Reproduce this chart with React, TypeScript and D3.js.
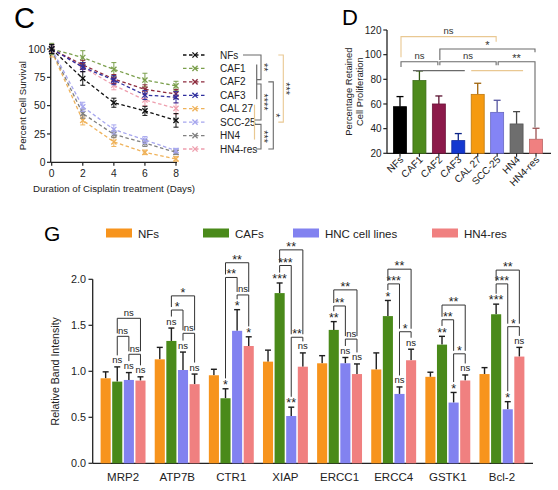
import React from "react";
import * as d3 from "d3";

const FONT = "'Liberation Sans', Arial, Helvetica, sans-serif";

// ---------------- Panel C : cell survival curves ----------------
const cDays = [0, 2, 4, 6, 8];
const cNames = ["NFs", "CAF1", "CAF2", "CAF3", "CAL 27", "SCC-25", "HN4", "HN4-res"];
const cNFs = [100, 74, 52.6, 45.4, 37];
const cCAF1 = [100, 92.5, 82, 72.6, 67.5];
const cCAF2 = [100, 86, 73.5, 64.4, 60.3];
const cCAF3 = [100, 84, 72.5, 59.4, 57.4];
const cCAL27 = [98, 37, 18, 8.8, 3];
const cSCC25 = [100, 49, 29, 19.7, 10.3];
const cHN4 = [99, 43, 24.7, 17, 8.8];
const cHN4res = [100, 84, 68, 55, 47.6];
const cErrNFs = [4, 6, 4, 4, 6];
const cErrCAF1 = [5, 6, 6, 6, 4];
const cErrCAF2 = [4, 4, 4, 4, 4];
const cErrCAF3 = [4, 4, 4, 4, 5];
const cErrCAL27 = [5, 4, 4, 2, 2];
const cErrSCC25 = [4, 4, 4, 3, 2];
const cErrHN4 = [4, 4, 3, 3, 2];
const cErrHN4res = [4, 4, 4, 5, 5];
const cColors = ["#111111", "#7b9f4c", "#8c2a3c", "#2f2f9e", "#efb25a", "#a6a6ee", "#808080", "#ee9fae"];
const cYTicks = [0, 25, 50, 75, 100];
const cXTicks = [0, 2, 4, 6, 8];
const cBrackets = [
  { from: "NFs", to: "CAF2", level: 1, label: "**", tone: "gray" },
  { from: "CAF2", to: "SCC-25", level: 1, label: "****", tone: "gray" },
  { from: "SCC-25", to: "HN4-res", level: 1, label: "***", tone: "gray" },
  { from: "CAF2", to: "HN4-res", level: 2, label: "*", tone: "gray" },
  { from: "NFs", to: "SCC-25", level: 3, label: "***", tone: "tan" },
];
const cGroups = [
  { from: "CAF1", to: "CAF3", tone: "gray" },
  { from: "CAL 27", to: "HN4", tone: "tan" },
];

// ---------------- Panel D : retained proliferation ----------------
const dCats = ["NFs", "CAF1", "CAF2", "CAF3", "CAL 27", "SCC-25", "HN4", "HN4-res"];
const dValues = [57.8, 79, 60, 30.3, 67.8, 53.2, 43.8, 31.4];
const dErrors = [8.2, 7.8, 6.5, 5.7, 9, 9.8, 10, 8.9];
const dColors = ["#000000", "#4e8a1c", "#8c1a4a", "#1438d0", "#f59a10", "#8484f5", "#6e6e6e", "#f08080"];
const dYTicks = [20, 40, 60, 80, 100, 120];
const dBrackets = [
  { from: "NFs", to: "SCC-25", level: 114.6, leftEnd: 97.9, rightEnd: 110.5, label: "ns", tone: "tan" },
  { from: "CAF2", to: "HN4-res", level: 104.6, leftEnd: 95.7, rightEnd: 101.9, label: "*", tone: "gray" },
  { from: "NFs", to: "CAF2", level: 94.3, leftEnd: 90, rightEnd: 91.5, label: "ns", tone: "gray" },
  { from: "CAF2", to: "SCC-25", level: 94.3, leftEnd: 91.5, rightEnd: 91.5, label: "ns", tone: "gray" },
  { from: "SCC-25", to: "HN4-res", level: 94.3, leftEnd: 91.5, rightEnd: 41, label: "**", tone: "gray" },
];
const dGroups = [
  { from: "CAF1", to: "CAF3", level: 87, tone: "gray" },
  { from: "CAL 27", to: "HN4", level: 87, tone: "tan" },
];

// ---------------- Panel G : band intensity ----------------
const gCats = ["MRP2", "ATP7B", "CTR1", "XIAP", "ERCC1", "ERCC4", "GSTK1", "Bcl-2"];
const gSeries = ["NFs", "CAFs", "HNC cell lines", "HN4-res"];
const gNFs = [0.924, 1.13, 0.957, 1.105, 1.087, 1.02, 0.94, 0.97];
const gNFsErr = [0.07, 0.13, 0.065, 0.125, 0.083, 0.18, 0.05, 0.07];
const gCAFs = [0.888, 1.33, 0.707, 1.85, 1.45, 1.6, 1.29, 1.62];
const gCAFsErr = [0.16, 0.14, 0.103, 0.11, 0.09, 0.17, 0.09, 0.11];
const gHNC = [0.906, 1.014, 1.44, 0.514, 1.087, 0.754, 0.66, 0.587];
const gHNCErr = [0.08, 0.195, 0.23, 0.096, 0.063, 0.076, 0.11, 0.083];
const gRes = [0.899, 0.86, 1.275, 1.05, 0.97, 1.12, 0.9, 1.16];
const gResErr = [0.041, 0.11, 0.1, 0.15, 0.11, 0.12, 0.06, 0.1];
const gColors = ["#f7941d", "#4a8a1a", "#8282f0", "#f08080"];
const gYTicks = [0, 0.5, 1, 1.5, 2];
// significance vs NFs for CAFs, HNC cell lines, HN4-res
const gStarsCAFs = ["ns", "ns", "*", "***", "**", "*", "**", "***"];
const gStarsHNC = ["ns", "ns", "*", "**", "ns", "ns", "*", "*"];
const gStarsRes = ["ns", "ns", "*", "ns", "ns", "ns", "ns", "ns"];
// bracket levels: CAFs vs HNC, CAFs vs HN4-res, HNC vs HN4-res
const gLevelCH = [1.38, 1.666, 2.02, 2.15, 1.71, 1.95, 1.56, 1.95];
const gLabelCH = ["ns", "*", "**", "***", "**", "***", "**", "***"];
const gLevelCR = [1.576, 1.82, 2.18, 2.32, 1.885, 2.11, 1.72, 2.1];
const gLabelCR = ["ns", "*", "**", "**", "**", "**", "**", "**"];
const gLevelHR = [1.185, 1.413, 1.83, 1.37, 1.35, 1.43, 1.19, 1.485];
const gLabelHR = ["ns", "ns", "ns", "**", "ns", "*", "*", "*"];

const TONE: Record<string, string> = { gray: "#6a6a6a", tan: "#e9c892" };
const hasStar = (s: string) => s.indexOf("*") >= 0;

function PanelC() {
  const x = d3.scaleLinear().domain([0, 8]).range([51.7, 176]);
  const y = d3.scaleLinear().domain([0, 100]).range([162.3, 49]);
  const rows = d3.scalePoint<string>().domain(cNames).range([55, 149]);
  const series = [cNFs, cCAF1, cCAF2, cCAF3, cCAL27, cSCC25, cHN4, cHN4res];
  const errs = [cErrNFs, cErrCAF1, cErrCAF2, cErrCAF3, cErrCAL27, cErrSCC25, cErrHN4, cErrHN4res];
  const line = d3.line<number>().x((_, i) => x(cDays[i])).y((d) => y(d));
  const order = [4, 6, 5, 7, 1, 2, 3, 0];
  const levelX = (l: number) => (l === 1 ? 261 : l === 2 ? 273.3 : 283.3);
  const cross = (cx: number, cy: number, col: string, k: string) => (
    <g key={k} stroke={col} strokeWidth={1.3}>
      <line x1={cx - 2.6} y1={cy - 2.6} x2={cx + 2.6} y2={cy + 2.6} />
      <line x1={cx - 2.6} y1={cy + 2.6} x2={cx + 2.6} y2={cy - 2.6} />
    </g>
  );
  return (
    <g fontFamily={FONT}>
      <text x={14} y={28} fontSize={29}>C</text>
      <line x1={50.7} x2={50.7} y1={y(0)} y2={y(100)} stroke="#222" strokeWidth={1.3} />
      <line x1={50.7} x2={177} y1={y(0)} y2={y(0)} stroke="#222" strokeWidth={1.3} />
      {cYTicks.map((t) => (
        <g key={"cy" + t}>
          <line x1={47} x2={50.7} y1={y(t)} y2={y(t)} stroke="#222" strokeWidth={1.2} />
          <text x={45.5} y={y(t) + 3.6} fontSize={10.3} textAnchor="end" fill="#222">{t}</text>
        </g>
      ))}
      {cXTicks.map((t) => (
        <g key={"cx" + t}>
          <line x1={x(t)} x2={x(t)} y1={y(0)} y2={y(0) + 3.5} stroke="#222" strokeWidth={1.2} />
          <text x={x(t)} y={y(0) + 14.5} fontSize={10.3} textAnchor="middle" fill="#222">{t}</text>
        </g>
      ))}
      <text x={114} y={191.5} fontSize={9.7} textAnchor="middle" fill="#222">Duration of Cisplatin treatment (Days)</text>
      <text transform={`translate(25.5,${(y(0) + y(100)) / 2}) rotate(-90)`} fontSize={9.6} textAnchor="middle" fill="#222">Percent Cell Survival</text>
      {order.map((si) => (
        <g key={"s" + si}>
          <path d={line(series[si]) || ""} fill="none" stroke={cColors[si]} strokeWidth={1.3} strokeDasharray="3.5,2.5" />
          {series[si].map((v, i) => (
            <g key={i} stroke={cColors[si]} strokeWidth={1}>
              <line x1={x(cDays[i])} x2={x(cDays[i])} y1={y(v - errs[si][i])} y2={y(v + errs[si][i])} />
              <line x1={x(cDays[i]) - 2.5} x2={x(cDays[i]) + 2.5} y1={y(v - errs[si][i])} y2={y(v - errs[si][i])} />
              <line x1={x(cDays[i]) - 2.5} x2={x(cDays[i]) + 2.5} y1={y(v + errs[si][i])} y2={y(v + errs[si][i])} />
            </g>
          ))}
          {series[si].map((v, i) => cross(x(cDays[i]), y(v), cColors[si], "m" + i))}
        </g>
      ))}
      {cNames.map((n, i) => {
        const ry = rows(n) as number;
        return (
          <g key={"l" + n}>
            <line x1={183} x2={207} y1={ry} y2={ry} stroke={cColors[i]} strokeWidth={1.3} strokeDasharray="3.5,2.5" />
            {cross(195, ry, cColors[i], "lm" + i)}
            <text x={220} y={ry + 3.6} fontSize={10} fill="#222">{n}</text>
          </g>
        );
      })}
      {cGroups.map((g, i) => (
        <line key={"cg" + i} x1={i === 0 ? 256.7 : 254.5} x2={i === 0 ? 256.7 : 254.5}
          y1={(rows(g.from) as number) - 4} y2={(rows(g.to) as number) + 4}
          stroke={TONE[g.tone]} strokeWidth={1.2} />
      ))}
      {cBrackets.map((b, i) => {
        const bx = levelX(b.level);
        const inset = (k: string) => (b.level === 1 && (k === "CAF2" || k === "SCC-25") ? 2.2 : 0);
        const y1 = (rows(b.from) as number) + inset(b.from);
        const y2 = (rows(b.to) as number) - inset(b.to);
        const tick = (k: string) => {
          if (b.level !== 1) return bx - 5;
          if (k === "NFs") return 243;
          if (k === "HN4-res") return 256;
          return k === "SCC-25" ? 255 : 257;
        };
        const col = TONE[b.tone];
        const mid = (y1 + y2) / 2;
        return (
          <g key={"cb" + i} stroke={col} strokeWidth={1.1} fill="none">
            <polyline points={`${tick(b.from)},${y1} ${bx},${y1} ${bx},${y2} ${tick(b.to)},${y2}`} />
            <text transform={`translate(${bx - 1.5},${mid}) rotate(90)`} fontSize={11} textAnchor="middle" stroke="none" fill="#333">{b.label}</text>
          </g>
        );
      })}
    </g>
  );
}

function PanelD() {
  const x = d3.scalePoint<string>().domain(dCats).range([400, 536]);
  const y = d3.scaleLinear().domain([20, 120]).range([153.3, 30]);
  const bw = 13;
  const keyX = (k: string) => x(k) as number;
  return (
    <g fontFamily={FONT}>
      <text x={342} y={25} fontSize={22}>D</text>
      <line x1={387} x2={387} y1={y(20)} y2={y(120)} stroke="#222" strokeWidth={1.3} />
      <line x1={387} x2={551} y1={y(20)} y2={y(20)} stroke="#222" strokeWidth={1.3} />
      {dYTicks.map((t) => (
        <g key={"dy" + t}>
          <line x1={383.3} x2={387} y1={y(t)} y2={y(t)} stroke="#222" strokeWidth={1.2} />
          <text x={381.5} y={y(t) + 3.6} fontSize={10} textAnchor="end" fill="#222">{t}</text>
        </g>
      ))}
      <text transform={`translate(352,${(y(20) + y(120)) / 2}) rotate(-90)`} fontSize={9.4} textAnchor="middle" fill="#222">Percentage Retained</text>
      <text transform={`translate(363,${(y(20) + y(120)) / 2}) rotate(-90)`} fontSize={9.4} textAnchor="middle" fill="#222">Cell Proliferation</text>
      {dCats.map((c, i) => {
        const cx = keyX(c);
        const col = dColors[i];
        const dark = d3.color(col)!.darker(1.2).formatHex();
        return (
          <g key={"db" + c}>
            <line x1={cx} x2={cx} y1={y(dValues[i])} y2={y(dValues[i] + dErrors[i])} stroke={dark} strokeWidth={1.3} />
            <line x1={cx - 3.5} x2={cx + 3.5} y1={y(dValues[i] + dErrors[i])} y2={y(dValues[i] + dErrors[i])} stroke={dark} strokeWidth={1.3} />
            <rect x={cx - bw / 2} y={y(dValues[i])} width={bw} height={y(20) - y(dValues[i])} fill={col}
              stroke={d3.color(col)!.darker(0.7).formatHex()} strokeWidth={0.8} />
            <line x1={cx} x2={cx} y1={y(20)} y2={y(20) + 3.5} stroke="#222" strokeWidth={1.2} />
            <text transform={`translate(${cx + 4},${y(20) + 7}) rotate(-45)`} fontSize={10} textAnchor="end" fill="#222">{c}</text>
          </g>
        );
      })}
      {dGroups.map((g, i) => (
        <line key={"dg" + i} x1={keyX(g.from) - bw / 2} x2={keyX(g.to) + bw / 2} y1={y(g.level)} y2={y(g.level)}
          stroke={TONE[g.tone]} strokeWidth={1.2} />
      ))}
      {dBrackets.map((b, i) => {
        const x1 = keyX(b.from) + 1;
        const x2 = keyX(b.to) - 1;
        const ly = y(b.level);
        const st = hasStar(b.label);
        return (
          <g key={"dbr" + i}>
            <polyline points={`${x1},${y(b.leftEnd)} ${x1},${ly} ${x2},${ly} ${x2},${y(b.rightEnd)}`}
              fill="none" stroke={TONE[b.tone]} strokeWidth={1.1} />
            <text x={(x1 + x2) / 2} y={ly - (st ? -0.5 : 2.5)} fontSize={st ? 11 : 9.5} textAnchor="middle" fill="#333">{b.label}</text>
          </g>
        );
      })}
    </g>
  );
}

function PanelG() {
  const x = d3.scaleBand<string>().domain(gCats).range([100.6, 524.4]).paddingInner(0.17).paddingOuter(0);
  const xs = d3.scaleBand<string>().domain(gSeries).range([0, x.bandwidth()]).paddingInner(0.13);
  const y = d3.scaleLinear().domain([0, 2]).range([463.3, 279.3]);
  const vals = [gNFs, gCAFs, gHNC, gRes];
  const errs = [gNFsErr, gCAFsErr, gHNCErr, gResErr];
  const stars = [null, gStarsCAFs, gStarsHNC, gStarsRes];
  const bw = xs.bandwidth();
  const barX = (ci: number, si: number) => (x(gCats[ci]) as number) + (xs(gSeries[si]) as number) + bw / 2;
  const legendX = [106, 203, 293, 432];
  const STAR_FS = 12.5;
  const NS_FS = 9.5;
  return (
    <g fontFamily={FONT}>
      <text x={44} y={241} fontSize={21}>G</text>
      {gSeries.map((s, i) => (
        <g key={"gl" + s}>
          <rect x={legendX[i]} y={228.5} width={26} height={9} fill={gColors[i]} />
          <text x={legendX[i] + 32} y={237.5} fontSize={11.5} fill="#222">{s}</text>
        </g>
      ))}
      <line x1={92.7} x2={92.7} y1={y(0)} y2={y(2)} stroke="#222" strokeWidth={1.3} />
      <line x1={92.7} x2={533} y1={y(0)} y2={y(0)} stroke="#222" strokeWidth={1.3} />
      {gYTicks.map((t) => (
        <g key={"gy" + t}>
          <line x1={88.5} x2={92.7} y1={y(t)} y2={y(t)} stroke="#222" strokeWidth={1.2} />
          <text x={86} y={y(t) + 3.8} fontSize={10.8} textAnchor="end" fill="#222">{t.toFixed(1)}</text>
        </g>
      ))}
      <text transform={`translate(59,${(y(0) + y(2)) / 2}) rotate(-90)`} fontSize={10.6} textAnchor="middle" fill="#222">Relative Band Intensity</text>
      {gCats.map((c, ci) => {
        const cx = (x(c) as number) + x.bandwidth() / 2;
        const barEls = vals.map((v, si) => {
          const bx = barX(ci, si);
          const top = y(v[ci] + errs[si][ci]);
          return (
            <g key={"gb" + si}>
              <line x1={bx} x2={bx} y1={y(v[ci])} y2={top} stroke="#1e1e1e" strokeWidth={1.4} />
              <line x1={bx - 3} x2={bx + 3} y1={top} y2={top} stroke="#1e1e1e" strokeWidth={1.4} />
              <rect x={bx - bw / 2} y={y(v[ci])} width={bw} height={y(0) - y(v[ci])} fill={gColors[si]} />
            </g>
          );
        });
        const starTop: number[] = [0, 0, 0, 0];
        const starEls = [1, 2, 3].map((si) => {
          const lab = (stars[si] as string[])[ci];
          const top = y(vals[si][ci] + errs[si][ci]);
          const st = hasStar(lab);
          const base = top - (st ? -0.3 : 3.5);
          starTop[si] = st ? base - 9.2 : base - 6.5;
          return (
            <text key={"gs" + si} x={barX(ci, si)} y={base} fontSize={st ? STAR_FS : NS_FS} textAnchor="middle" fill="#222">{lab}</text>
          );
        });
        const brs = [
          { a: 1, b: 2, level: gLevelCH[ci], label: gLabelCH[ci] },
          { a: 1, b: 3, level: gLevelCR[ci], label: gLabelCR[ci] },
          { a: 2, b: 3, level: gLevelHR[ci], label: gLabelHR[ci] },
        ];
        const legEnd = (k: number, bar: number) => {
          let end = starTop[bar] - 1.5;
          brs.forEach((m, mi) => {
            if (mi === k) return;
            if (y(m.level) > y(brs[k].level) && (m.a === bar || m.b === bar)) {
              end = Math.min(end, y(m.level) - 3);
            }
          });
          return end;
        };
        const brEls = brs.map((br, k) => {
          const x1 = barX(ci, br.a);
          const x2 = barX(ci, br.b);
          const ly = y(br.level);
          const st = hasStar(br.label);
          return (
            <g key={"gbr" + k}>
              <polyline points={`${x1},${legEnd(k, br.a)} ${x1},${ly} ${x2},${ly} ${x2},${legEnd(k, br.b)}`}
                fill="none" stroke="#333" strokeWidth={1} />
              <text x={(x1 + x2) / 2} y={ly - (st ? -1 : 2.5)} fontSize={st ? STAR_FS : NS_FS} textAnchor="middle" fill="#222">{br.label}</text>
            </g>
          );
        });
        return (
          <g key={"gc" + c}>
            {barEls}
            {starEls}
            {brEls}
            <text x={cx} y={481} fontSize={11.5} textAnchor="middle" fill="#222">{c}</text>
          </g>
        );
      })}
    </g>
  );
}

export default function App() {
  return (
    <svg width={558} height={490} viewBox="0 0 558 490"
      style={{ position: "absolute", left: 0, top: 0, background: "#ffffff" }}>
      <rect x={0} y={0} width={558} height={490} fill="#ffffff" />
      <PanelC />
      <PanelD />
      <PanelG />
    </svg>
  );
}
